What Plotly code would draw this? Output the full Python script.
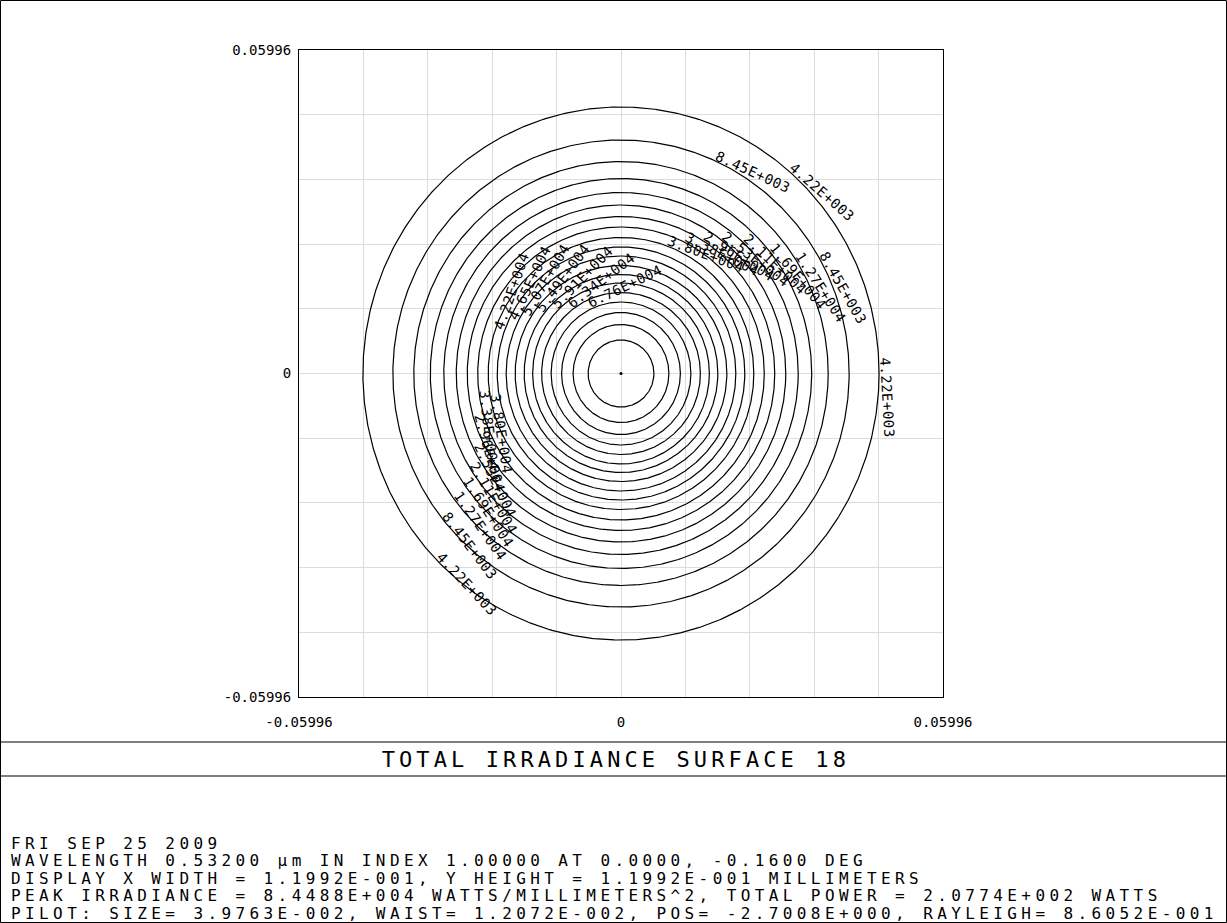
import numpy as np
import plotly.graph_objects as go

# ---- data -------------------------------------------------------------
# iso-irradiance contour levels (W/mm^2): 5 % ... 95 % of the peak
level_values = [4.22e3, 8.45e3, 1.27e4, 1.69e4, 2.11e4, 2.53e4, 2.96e4, 3.38e4, 3.80e4,
                4.22e4, 4.65e4, 5.07e4, 5.49e4, 5.91e4, 6.34e4, 6.76e4, 7.18e4, 7.60e4, 8.03e4]
# semi-axes of each contour (mm)
radius_x = [0.04806, 0.04248, 0.03858, 0.03551, 0.03300, 0.03068, 0.02863, 0.02668, 0.02473,
            0.02305, 0.02138, 0.01971, 0.01803, 0.01645, 0.01478, 0.01301, 0.01106, 0.00892, 0.00613]
radius_y = [0.04940, 0.04328, 0.03929, 0.03614, 0.03355, 0.03123, 0.02910, 0.02715, 0.02521,
            0.02345, 0.02178, 0.02002, 0.01835, 0.01677, 0.01501, 0.01325, 0.01131, 0.00908, 0.00621]
peak_x = [0.0]
peak_y = [0.0]

axis_limit = 0.05996
grid_ticks = [-0.05996, -0.047968, -0.035976, -0.023984, -0.011992, 0.0,
              0.011992, 0.023984, 0.035976, 0.047968, 0.05996]
grid_text = ["-0.05996", "", "", "", "", "0", "", "", "", "", "0.05996"]

title_text = "TOTAL IRRADIANCE SURFACE 18"
info_lines = [
    "FRI SEP 25 2009",
    "WAVELENGTH 0.53200 \u00b5m IN INDEX 1.00000 AT 0.0000, -0.1600 DEG",
    "DISPLAY X WIDTH = 1.1992E-001, Y HEIGHT = 1.1992E-001 MILLIMETERS",
    "PEAK IRRADIANCE = 8.4488E+004 WATTS/MILLIMETERS^2, TOTAL POWER = 2.0774E+002 WATTS",
    "PILOT: SIZE= 3.9763E-002, WAIST= 1.2072E-002, POS= -2.7008E+000, RAYLEIGH= 8.6052E-001",
]

# where the level labels sit: (contour index, angle along contour in deg, reading sense)
label_spots = [
    (1, 65.9, "cw"), (0, 49.7, "cw"), (1, 30.2, "cw"), (2, 33.5, "cw"), (3, 39.7, "cw"),
    (4, 47.1, "cw"), (5, 53.0, "cw"), (6, 58.4, "cw"), (7, 64.0, "cw"), (8, 70.2, "cw"),
    (9, 160.5, "cw"), (10, 154.0, "cw"), (11, 149.0, "cw"), (12, 143.0, "cw"),
    (13, 135.0, "cw"), (14, 127.0, "cw"), (15, 115.0, "cw"),
    (0, 3.4, "cw"),
    (0, 224.0, "ccw"), (1, 218.0, "ccw"), (2, 215.6, "ccw"), (3, 213.5, "ccw"),
    (4, 210.7, "ccw"), (5, 205.7, "ccw"), (6, 195.8, "ccw"), (7, 187.0, "ccw"), (8, 189.0, "ccw"),
]

# ---- layout constants --------------------------------------------------
W, H = 1227, 923
PLOT_L, PLOT_R, PLOT_T, PLOT_B = 299, 943, 50, 697
SX = (PLOT_R - PLOT_L) / (2 * axis_limit)   # px per mm
SY = (PLOT_B - PLOT_T) / (2 * axis_limit)
FONT = "DejaVu Sans Mono"
LBL_SIZE, LBL_SPACING = 14, 0.5
TITLE_SIZE, TITLE_SPACING = 22, 4.1
INFO_SIZE, INFO_SPACING = 16, 4.4


def sci3(v):
    m, e = f"{v:.2E}".split("E")
    return f"{m}E{int(e):+04d}"


fig = go.Figure()

# contour ellipses
t = np.linspace(0, 2 * np.pi, 721)
cx, cy = [], []
for rx, ry in zip(radius_x, radius_y):
    cx += list(rx * np.cos(t)) + [None]
    cy += list(ry * np.sin(t)) + [None]
fig.add_trace(go.Scatter(x=cx, y=cy, mode="lines", line=dict(color="black", width=1.2),
                         hoverinfo="skip", showlegend=False))
fig.add_trace(go.Scatter(x=peak_x, y=peak_y, mode="markers",
                         marker=dict(color="black", size=3), hoverinfo="skip", showlegend=False))

# level labels: text starts on the contour and runs along its tangent
annotations = []
adv = 0.602 * LBL_SIZE + LBL_SPACING
for idx, ang, sense in label_spots:
    a = np.radians(ang)
    px, py = radius_x[idx] * np.cos(a), radius_y[idx] * np.sin(a)
    dx, dy = radius_x[idx] * np.sin(a) * SX, radius_y[idx] * np.cos(a) * SY
    n = np.hypot(dx, dy)
    dx, dy = dx / n, dy / n
    if sense == "ccw":
        dx, dy = -dx, -dy
    rot = float(np.degrees(np.arctan2(dy, dx)))
    ux, uy = dy, -dx
    text = sci3(level_values[idx])
    L = len(text) * adv
    c = 0.35 * LBL_SIZE + 1
    ox = L / 2 * dx + c * ux
    oy = L / 2 * dy + c * uy
    annotations.append(dict(x=px, y=py, xref="x", yref="y", text=text, textangle=rot,
                            showarrow=False, xanchor="center", yanchor="middle",
                            xshift=ox, yshift=-oy,
                            font=dict(family=FONT, size=LBL_SIZE, color="black")))

annotations.append(dict(x=615.5 / W, y=1 - 759 / H, xref="paper", yref="paper",
                        text=title_text, showarrow=False, xanchor="center", yanchor="middle",
                        font=dict(family=FONT, size=TITLE_SIZE, color="black")))
for i, line in enumerate(info_lines):
    yc = 843 + i * 17.6
    annotations.append(dict(x=9 / W, y=1 - yc / H, xref="paper", yref="paper", text=line,
                            showarrow=False, xanchor="left", yanchor="middle", align="left",
                            font=dict(family=FONT, size=INFO_SIZE, color="black")))

shapes = [
    dict(type="rect", xref="paper", yref="paper", x0=0.5 / W, x1=1 - 0.5 / W,
         y0=0.5 / H, y1=1 - 0.5 / H, line=dict(color="black", width=1)),
    dict(type="line", xref="paper", yref="paper", x0=0, x1=1, y0=1 - 742 / H, y1=1 - 742 / H,
         line=dict(color="black", width=1)),
    dict(type="line", xref="paper", yref="paper", x0=0, x1=1, y0=1 - 776 / H, y1=1 - 776 / H,
         line=dict(color="black", width=1)),
]

axis_common = dict(range=[-axis_limit, axis_limit], tickmode="array", tickvals=grid_ticks,
                   ticktext=grid_text, showgrid=True, gridcolor="#dcdcdc", gridwidth=1,
                   zeroline=False, showline=True, linecolor="black", linewidth=1, mirror=True,
                   ticks="", tickfont=dict(family=FONT, size=14, color="black"))

fig.update_layout(
    width=W, height=H, autosize=False,
    margin=dict(l=0, r=0, t=0, b=0, autoexpand=False),
    paper_bgcolor="white", plot_bgcolor="white",
    xaxis=dict(domain=[PLOT_L / W, PLOT_R / W], ticklabelstandoff=12, **axis_common),
    yaxis=dict(domain=[1 - PLOT_B / H, 1 - PLOT_T / H], ticklabelstandoff=4, **axis_common),
    annotations=annotations,
    shapes=shapes,
    showlegend=False,
)

# stroke-font style spacing for annotation texts
post_js = """
var gd = document.getElementById('{plot_id}');
var spacing = {'%dpx': '%spx', '%dpx': '%spx', '%dpx': '%spx'};
gd.querySelectorAll('.annotation-text').forEach(function (el) {
    var s = spacing[el.style.fontSize];
    if (s) { el.style.letterSpacing = s; }
});
""" % (LBL_SIZE, LBL_SPACING, TITLE_SIZE, TITLE_SPACING, INFO_SIZE, INFO_SPACING)

fig.write_html("out.html", post_script=post_js)
